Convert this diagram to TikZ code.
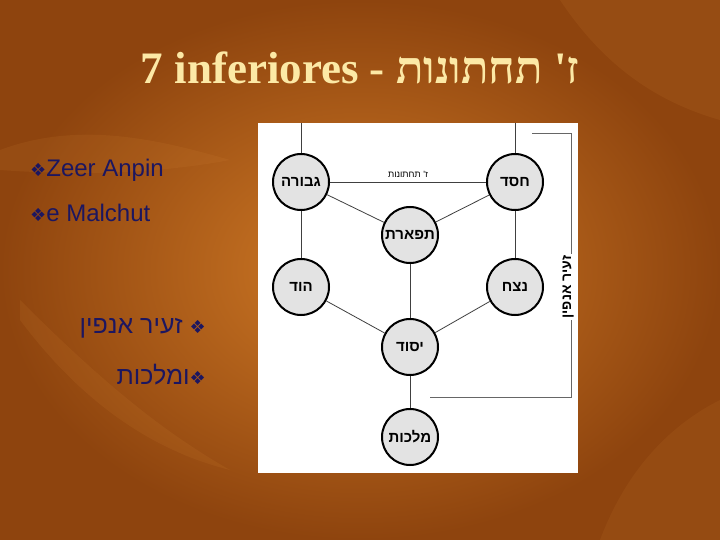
\documentclass[tikz,border=0pt]{standalone}
\usepackage{fontspec}
\setmainfont{Liberation Sans}
\newfontfamily\heb[Script=Hebrew]{Liberation Sans}
\newfontfamily\hebserif[Script=Hebrew]{Liberation Serif}
\newfontfamily\dejavu{DejaVu Sans}
\TeXXeTstate=1
\usetikzlibrary{shadings}
\definecolor{navy}{HTML}{1C1660}
\definecolor{cream}{HTML}{FCE9A6}
\definecolor{bgin}{HTML}{D07A26}
\definecolor{bgout}{HTML}{8E440E}
\definecolor{leaf}{HTML}{D88A3A}
\begin{document}
\begin{tikzpicture}[x=1pt,y=-1pt,
  sef/.style={circle,draw=black,line width=2pt,fill=gray!22,minimum size=56pt,inner sep=0pt,font=\heb\bfseries\fontsize{15}{15}\selectfont},
  edge/.style={draw=black!75,line width=0.8pt},
  bul/.style={font=\fontsize{24}{26}\selectfont,text=navy,anchor=west,inner sep=0pt}]
\useasboundingbox (0,0) rectangle (720,540);
\shade[inner color=bgin,outer color=bgout] (0,0) rectangle (720,540);
% subtle leaves
\fill[leaf,opacity=0.12] (0,150) .. controls (80,120) and (160,140) .. (230,160) .. controls (150,175) and (70,175) .. (0,170) -- cycle;
\fill[leaf,opacity=0.12] (20,300) .. controls (100,380) and (160,430) .. (230,470) .. controls (150,450) and (80,400) .. (20,320) -- cycle;
\fill[leaf,opacity=0.12] (560,0) .. controls (600,60) and (650,100) .. (720,120) -- (720,0) -- cycle;
\fill[leaf,opacity=0.1] (600,540) .. controls (630,460) and (680,420) .. (720,400) -- (720,540) -- cycle;
% title
\node[font=\hebserif\bfseries\fontsize{45}{46}\selectfont,text=cream] (title) at (360,68) {7 inferiores - \beginR ז' תחתונות\endR};
% bullets
\node[bul] (b1) at (30,170) {{\dejavu\fontsize{18}{18}\selectfont ❖}Zeer Anpin};
\node[bul] (b2) at (30,213) {{\dejavu\fontsize{18}{18}\selectfont ❖}e Malchut};
\node[bul,anchor=east,font=\heb\fontsize{25}{26}\selectfont] (h1) at (206,328) {\beginR{\dejavu\fontsize{18}{18}\selectfont ❖} זעיר אנפין\endR};
\node[bul,anchor=east,font=\heb\fontsize{25}{26}\selectfont] (h2) at (206,375) {\beginR{\dejavu\fontsize{18}{18}\selectfont ❖}ומלכות\endR};
% picture panel
\fill[white] (258,123) rectangle (578,473);
\node[sef] (gev) at (301,182) {\beginR גבורה\endR};
\node[sef] (che) at (515,182) {\beginR חסד\endR};
\node[sef] (tif) at (410,235) {\beginR תפארת\endR};
\node[sef] (hod) at (301,287) {\beginR הוד\endR};
\node[sef] (net) at (515,287) {\beginR נצח\endR};
\node[sef] (yes) at (410,347) {\beginR יסוד\endR};
\node[sef] (mal) at (410,437) {\beginR מלכות\endR};
\coordinate (gt) at (301,123);
\coordinate (ct) at (515,123);
\path[edge] (gt) -- (gev);
\path[edge] (ct) -- (che);
\path[edge] (gev) -- node[above=1pt,font=\heb\fontsize{9}{9}\selectfont,text=black] (lbl) {\beginR ז' תחתונות\endR} (che);
\path[edge] (gev) -- (tif);
\path[edge] (che) -- (tif);
\path[edge] (gev) -- (hod);
\path[edge] (che) -- (net);
\path[edge] (tif) -- (yes);
\path[edge] (hod) -- (yes);
\path[edge] (net) -- (yes);
\path[edge] (yes) -- (mal);
% bracket
\coordinate (k1) at (532,133);
\coordinate (k2) at (571,133);
\coordinate (k3) at (571,397);
\coordinate (k4) at (430,397);
\draw[black!60,line width=0.8pt] (k1) -- (k2) -- (k3) -- (k4);
\node[rotate=90,fill=white,inner sep=1pt,font=\heb\bfseries\fontsize{14}{14}\selectfont] (za) at (568,287) {\beginR זעיר אנפין\endR};
\end{tikzpicture}
\end{document}
